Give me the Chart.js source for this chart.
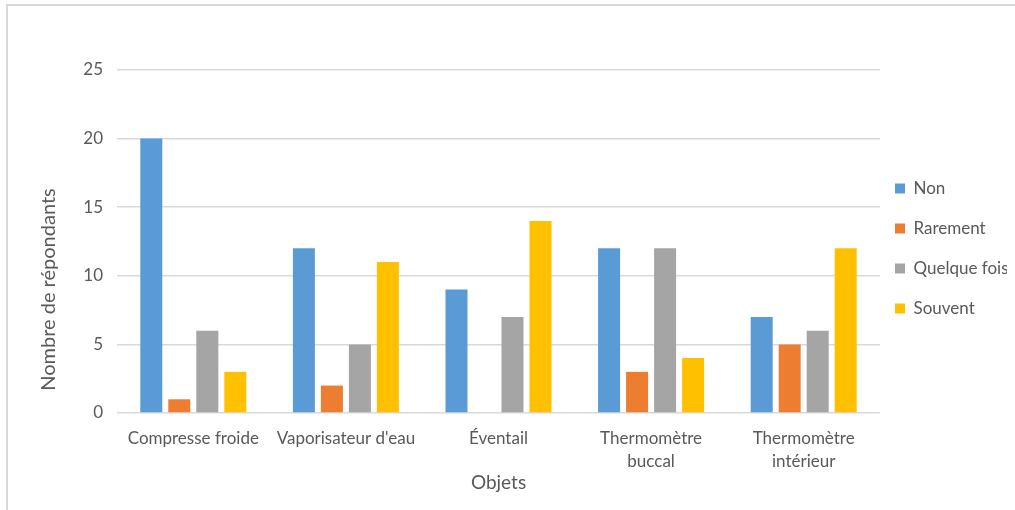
<!DOCTYPE html>
<html>
<head>
<meta charset="utf-8">
<script src="https://cdn.jsdelivr.net/npm/chart.js@4/dist/chart.umd.min.js"></script>
<style>
  body { margin: 0; background: #fff; }
  #frame { position: absolute; left: 6px; top: 4px; width: 1100px; height: 600px; border: 2px solid #d9d9d9; }
  #wrap { position: absolute; left: 0; top: 0; width: 1015px; height: 510px; }
</style>
</head>
<body>
<div id="frame"></div>
<div id="wrap"><canvas id="chart"></canvas></div>
<script>
// categories (multi-line labels as arrays)
const categories = [
    'Compresse froide',
    "Vaporisateur d'eau",
    'Éventail',
    ['Thermomètre', 'buccal'],
    ['Thermomètre', 'intérieur']
];

const seriesNames = ['Non', 'Rarement', 'Quelque fois', 'Souvent'];
const seriesColors = ['#5b9bd5', '#ed7d31', '#a5a5a5', '#ffc000'];

const nonValues = [20, 12, 9, 12, 7];
const rarementValues = [1, 2, 0, 3, 5];
const quelqueFoisValues = [6, 5, 7, 12, 6];
const souventValues = [3, 11, 14, 4, 12];

const yTicks = [0, 5, 10, 15, 20, 25];
const xTitle = 'Objets';
const yTitle = 'Nombre de répondants';

const FONT = 'Lato';
const TEXT = '#595959';

const allValues = [nonValues, rarementValues, quelqueFoisValues, souventValues];

// y axis title drawn a bit lower than chart.js would center it
const yTitlePlugin = {
    id: 'yTitle',
    afterDraw(chart) {
        const ctx = chart.ctx;
        const area = chart.chartArea;
        ctx.save();
        ctx.translate(49, (area.top + area.bottom) / 2 + 48);
        ctx.rotate(-Math.PI / 2);
        ctx.font = '20px ' + FONT;
        ctx.fillStyle = TEXT;
        ctx.textAlign = 'center';
        ctx.textBaseline = 'middle';
        ctx.fillText(yTitle, 0, 0);
        ctx.restore();
    }
};

// nudge the legend block a little, like excel places it
const legendNudge = {
    id: 'legendNudge',
    afterLayout(chart) {
        const lg = chart.legend;
        if (!lg) return;
        lg.left -= 8; lg.right -= 8;
        lg.top += 7; lg.bottom += 7;
    }
};

const ctx = document.getElementById('chart').getContext('2d');
new Chart(ctx, {
    type: 'bar',
    data: {
        labels: categories,
        datasets: seriesNames.map((name, i) => ({
            label: name,
            data: allValues[i],
            backgroundColor: seriesColors[i],
            borderWidth: 0,
            categoryPercentage: 0.734,
            barPercentage: 0.786
        }))
    },
    options: {
        responsive: true,
        maintainAspectRatio: false,
        animation: false,
        layout: { padding: { left: 10, top: 70, right: 0, bottom: 0 } },
        plugins: {
            legend: {
                position: 'right',
                fullSize: false,
                maxWidth: 135,
                labels: {
                    boxWidth: 10,
                    boxHeight: 10,
                    padding: 23,
                    color: TEXT,
                    font: { family: FONT, size: 17 }
                }
            },
            tooltip: { enabled: false }
        },
        scales: {
            x: {
                grid: { display: false, drawTicks: false },
                border: { display: false },
                ticks: {
                    color: TEXT,
                    font: { family: FONT, size: 17, lineHeight: 1.35 },
                    padding: 14,
                    maxRotation: 0,
                    autoSkip: false
                },
                title: {
                    display: true,
                    text: xTitle,
                    color: TEXT,
                    font: { family: FONT, size: 19 },
                    padding: { top: 4, bottom: 16 }
                },
                afterFit(scale) { scale.height = 97; }
            },
            y: {
                min: 0,
                max: 25,
                afterBuildTicks(scale) { scale.ticks = yTicks.map(v => ({ value: v })); },
                grid: { color: '#d9d9d9', lineWidth: 1.5, drawTicks: false },
                border: { display: false },
                ticks: {
                    color: TEXT,
                    font: { family: FONT, size: 17 },
                    padding: 14
                },
                afterFit(scale) { scale.width = 107; }
            }
        }
    },
    plugins: [yTitlePlugin, legendNudge]
});
</script>
</body>
</html>
